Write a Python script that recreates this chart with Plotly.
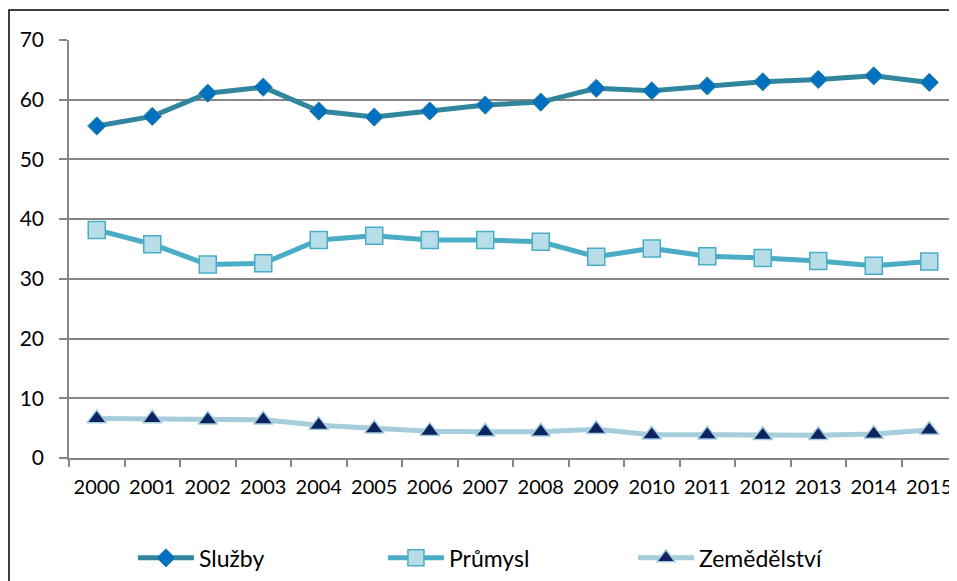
import plotly.graph_objects as go

years = [str(y) for y in range(2000, 2016)]
sluzby = [55.6, 57.2, 61.1, 62.1, 58.1, 57.1, 58.1, 59.1, 59.6, 61.9, 61.5, 62.3, 63.0, 63.4, 64.0, 62.9]
prumysl = [38.2, 35.8, 32.4, 32.6, 36.5, 37.2, 36.5, 36.5, 36.2, 33.7, 35.1, 33.8, 33.5, 33.0, 32.2, 32.9]
zemedelstvi = [6.6, 6.6, 6.4, 6.4, 5.5, 4.9, 4.5, 4.4, 4.4, 4.8, 3.9, 3.9, 3.8, 3.8, 4.0, 4.7]
y_ticks = [0, 10, 20, 30, 40, 50, 60, 70]

FONT = "Lato"

fig = go.Figure()
fig.add_trace(go.Scatter(
    x=years, y=sluzby, name="Služby", mode="lines+markers",
    line=dict(color="#31859C", width=5),
    marker=dict(symbol="diamond", size=14, color="#0070C0",
                line=dict(color="#31859C", width=1))))
fig.add_trace(go.Scatter(
    x=years, y=prumysl, name="Průmysl", mode="lines+markers",
    line=dict(color="#4BACC6", width=5),
    marker=dict(symbol="square", size=17, color="#B7DEE8",
                line=dict(color="#4BACC6", width=1.5))))
fig.add_trace(go.Scatter(
    x=years, y=zemedelstvi, name="Zemědělství", mode="lines+markers",
    line=dict(color="#A5CDDB", width=5),
    marker=dict(symbol="triangle-up", size=17, color="#0C2462",
                line=dict(color="#A5CDDB", width=1.5))))

W, H = 949, 573
L, T, B = 61, 32, 123
PW, PH = W - L, H - T - B

fig.update_layout(
    width=W, height=H,
    margin=dict(l=L, r=0, t=T, b=B, autoexpand=False),
    paper_bgcolor="white", plot_bgcolor="white",
    font=dict(family=FONT, size=20, color="black"),
    showlegend=True,
    legend=dict(orientation="h", x=0.072, y=-0.239, xanchor="left", yanchor="middle",
                font=dict(family=FONT, size=23, color="black"),
                entrywidth=179, itemwidth=56, bgcolor="rgba(0,0,0,0)"),
    xaxis=dict(type="category", showgrid=False, showline=True, linecolor="#868686", linewidth=1.5,
               ticks="outside", tickson="boundaries", ticklen=7, tickcolor="#868686", tickwidth=1.5,
               tickangle=0, automargin=False, ticklabelstandoff=10,
               tickfont=dict(family=FONT, size=20, color="black"), range=[-0.5, 15.5]),
    yaxis=dict(range=[0, 70], tickvals=y_ticks, showgrid=True, gridcolor="#868686", gridwidth=1.5,
               showline=True, linecolor="#868686", linewidth=1.5, zeroline=False,
               ticks="outside", ticklen=8, tickcolor="#868686", tickwidth=1.5,
               ticklabelstandoff=11, automargin=False,
               tickfont=dict(family=FONT, size=21, color="black")),
    shapes=[dict(type="rect", xref="paper", yref="paper",
                 x0=(1 - L) / PW, x1=1.2, y0=-0.6, y1=(T + PH - 2) / PH,
                 line=dict(color="black", width=1.5), fillcolor="rgba(0,0,0,0)", layer="below")],
)

fig.write_html("out.html")
